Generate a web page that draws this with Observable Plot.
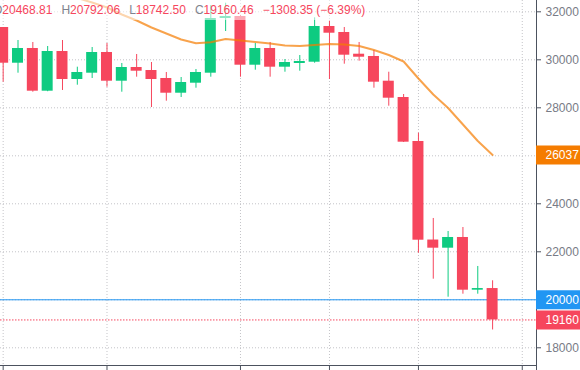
<!DOCTYPE html>
<html><head><meta charset="utf-8">
<script src="https://cdn.jsdelivr.net/npm/d3@7"></script>
<script src="https://cdn.jsdelivr.net/npm/@observablehq/plot@0.6"></script>
<style>
body{margin:0;background:#fff;font-family:"Liberation Sans",Arial,sans-serif;}
#wrap{position:relative;width:580px;height:370px;overflow:hidden;}
#legend{position:absolute;top:0;left:-7px;height:20px;line-height:20px;font-size:12px;background:rgba(255,255,255,0.55);padding-right:4px;white-space:nowrap;}
#legend .k{color:#7f838e}
#legend .v{color:#f6465d}
#legend .item{margin-right:9px}
#legend .item:last-child{margin-right:0}
</style></head><body>
<div id="wrap"><div id="chart"></div><div id="legend"></div></div>
<script>
const dates = ["2022-05-16","2022-05-17","2022-05-18","2022-05-19","2022-05-20","2022-05-21","2022-05-22","2022-05-23","2022-05-24","2022-05-25","2022-05-26","2022-05-27","2022-05-28","2022-05-29","2022-05-30","2022-05-31","2022-06-01","2022-06-02","2022-06-03","2022-06-04","2022-06-05","2022-06-06","2022-06-07","2022-06-08","2022-06-09","2022-06-10","2022-06-11","2022-06-12","2022-06-13","2022-06-14","2022-06-15","2022-06-16","2022-06-17","2022-06-18"];
const open  = [31346,29858,30471,28692,30346,29179,29442,30304,29108,29679,29554,29221,28608,29025,29442,31721,31804,29775,30471,29692,29846,29900,31388,31138,30233,30138,29108,28429,26596,22490,22150,22596,20400,20468.81];
const high  = [31346,30804,30721,30554,30804,29692,30512,30679,29846,30221,29887,29471,29262,29596,32262,32358,31850,30679,30721,30012,30179,31750,31608,31346,30721,30388,29483,28554,26942,23388,22846,23012,21388,20792.06];
const low   = [29067,29442,28650,28670,28721,28942,29221,28858,28650,29275,28012,28275,28429,28817,29275,31179,29275,29567,29275,29483,29525,29858,29179,29817,29942,28817,28067,26554,21942,20858,20108,20233,20233,18742.50];
const close = [29858,30471,28692,30346,29179,29471,30304,29108,29679,29525,29179,28608,29054,29471,31721,31804,29775,30471,29692,29887,29929,31388,31108,30192,30108,29067,28400,26567,22483,22150,22596,20400,20468.81,19160.46];
const ma    = [null,null,null,null,32762,32575,32388,32179,31888,31638,31346,31096,30846,30692,30733,30867,30804,30742,30679,30596,30575,30617,30658,30637,30575,30408,30200,29929,29221,28554,27992,27304,26617,26037];
const yTicks = [18000,20000,22000,24000,26000,28000,30000,32000];
const xTickDates = ["2022-05-16","2022-05-23","2022-06-01","2022-06-07","2022-06-13","2022-06-20"];
const tagValues = [26037, 20000, 19160.46];
const tagLabels = ["26037", "20000", "19160"];
const tagColors = ["#f57c00", "#2196f3", "#f6465d"];
const legendKeys = ["O","H","L","C",""];
const legendVals = ["20468.81","20792.06","18742.50","19160.46","\u22121308.35 (\u22126.39%)"];

const GREEN = "#0ecb81", RED = "#f6465d", AXIS = "#4c525e";
const DAY = 864e5;
const t0 = Date.parse(dates[0]);
const data = dates.map((d,i)=>({date:new Date(d), open:open[i], high:high[i], low:low[i], close:close[i], ma:ma[i]}));
const tags = tagValues.map((v,i)=>({value:v, label:tagLabels[i], color:tagColors[i]}));
const colorOf = d => d.close >= d.open ? GREEN : RED;
const W = 580, MR = 44;

const chart = Plot.plot({
  width: W, height: 370, marginTop: 0, marginLeft: 0, marginRight: MR, marginBottom: 5,
  style: {fontFamily: '"Liberation Sans", Arial, sans-serif', fontSize: "12px", background: "white", overflow: "hidden"},
  x: {type: "utc", domain: [new Date(t0 - 0.18*DAY), new Date(t0 + 35.96*DAY)], axis: null},
  y: {domain: [17262, 32471], axis: null},
  marks: [
    Plot.gridY(yTicks, {stroke: "#c4c4c8", strokeOpacity: 1, strokeDasharray: "1,2"}),
    Plot.gridX(xTickDates.map(d=>new Date(d)), {stroke: "#c4c4c8", strokeOpacity: 1, strokeDasharray: "1,2"}),
    Plot.ruleY([tagValues[1]], {stroke: "#2196f3"}),
    Plot.ruleY([close[close.length-1]], {stroke: RED, strokeDasharray: "1.5,1.5"}),
    Plot.ruleX(data, {x: "date", y1: "low", y2: "high", stroke: colorOf}),
    Plot.rect(data, {
      x1: d => new Date(+d.date - 0.371*DAY), x2: d => new Date(+d.date + 0.371*DAY),
      y1: d => Math.min(d.open, d.close), y2: d => Math.max(d.open, d.close), fill: colorOf
    }),
    Plot.line(data.filter(d => d.ma != null), {x: "date", y: "ma", stroke: "#f57c00", strokeOpacity: 0.7, strokeWidth: 2, clip: true}),
    Plot.frame({anchor: "bottom", stroke: AXIS}),
    Plot.frame({anchor: "right", stroke: AXIS, insetBottom: -5}),
    Plot.axisX({ticks: xTickDates.map(d=>new Date(d)), tickSize: 5, stroke: AXIS, fill: "none", label: null}),
    Plot.axisY({anchor: "right", ticks: yTicks, tickSize: 4, tickPadding: 5, tickFormat: d => String(d), stroke: AXIS, fill: "#787b86", fontSize: 12, label: null}),
    Plot.ruleY(tags, {y: "value", stroke: "color", strokeWidth: 19, dx: W - MR}),
    Plot.text(tags, {y: "value", text: "label", frameAnchor: "right", textAnchor: "start", dx: 9, fill: "white", fontSize: 12})
  ]
});
document.getElementById("chart").appendChild(chart);

const lg = document.getElementById("legend");
legendKeys.forEach((k,i)=>{
  const s = document.createElement("span"); s.className = "item";
  if (k) { const a = document.createElement("span"); a.className = "k"; a.textContent = k; s.appendChild(a); }
  const b = document.createElement("span"); b.className = "v"; b.textContent = legendVals[i]; s.appendChild(b);
  lg.appendChild(s);
});
</script>
</body></html>
